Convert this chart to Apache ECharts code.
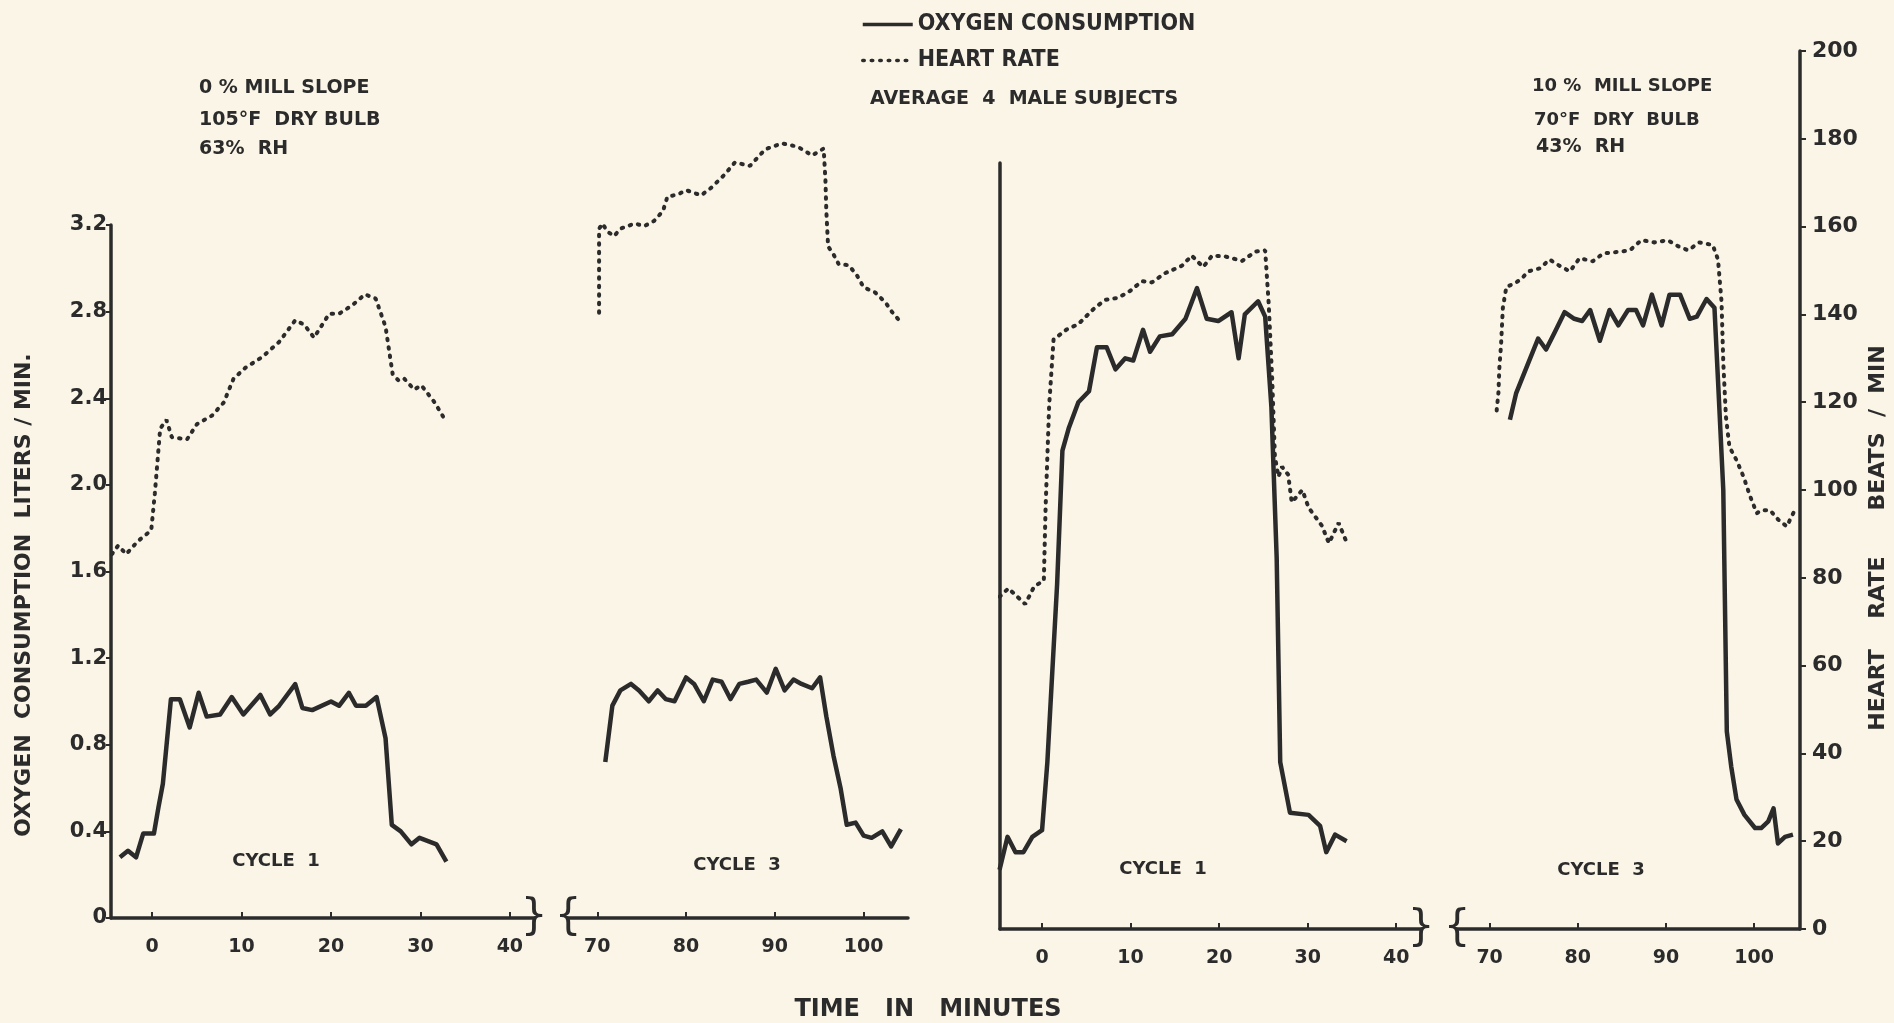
<!DOCTYPE html>
<html>
<head>
<meta charset="utf-8">
<title>Oxygen consumption and heart rate</title>
<script src="https://cdn.jsdelivr.net/npm/echarts@6/dist/echarts.min.js"></script>
<style>
  * { margin: 0; padding: 0; }
  html, body { background: #fbf5e7; }
  #main { width: 1894px; height: 1023px; }
</style>
</head>
<body>
<div id="main"></div>
<script>
// [minute, litres/min] and [minute, beats/min]
// 0% slope, 105 F dry bulb, 63% RH
var o2HotC1 = [[-3.6,0.28],[-2.7,0.31],[-1.8,0.28],[-1.0,0.39],[0.2,0.39],[0.7,0.51],[1.2,0.62],[2.1,1.01],[3.1,1.01],[4.2,0.88],[5.2,1.04],[6.1,0.93],[7.6,0.94],[8.9,1.02],[10.2,0.94],[12.1,1.03],[13.2,0.94],[14.2,0.98],[16.0,1.08],[16.8,0.97],[17.9,0.96],[20.0,1.00],[20.9,0.98],[22.0,1.04],[22.8,0.98],[23.9,0.98],[25.1,1.02],[26.1,0.83],[26.8,0.43],[27.8,0.40],[29.0,0.34],[29.9,0.37],[31.8,0.34],[32.9,0.26]];
var hrHotC1 = [[-4.5,84],[-3.8,86],[-2.9,84],[-1.6,87],[-0.1,89.5],[0.3,98],[0.7,108],[0.9,113],[1.6,115],[2.2,111],[3.9,110.5],[5.0,114],[6.7,116],[8.0,119],[9.1,124.5],[10.4,127],[12.3,129.5],[14.2,133],[16.0,138],[17.0,137],[18.1,134],[19.8,139.5],[20.9,139.5],[22.4,141.5],[23.8,144],[25.0,143],[26.1,136.5],[26.5,131],[26.9,125.5],[27.6,124],[28.2,124.5],[29.3,122],[30.1,123],[31.6,119],[32.9,114.5]];
var o2HotC3 = [[70.9,0.72],[71.7,0.98],[72.6,1.05],[73.8,1.08],[74.7,1.05],[75.8,1.00],[76.8,1.05],[77.7,1.01],[78.7,1.00],[80.0,1.11],[80.9,1.08],[82.0,1.00],[83.0,1.10],[84.0,1.09],[85.0,1.01],[86.0,1.08],[87.0,1.09],[87.9,1.10],[89.1,1.04],[90.1,1.15],[91.1,1.05],[92.1,1.10],[93.0,1.08],[94.2,1.06],[95.1,1.11],[95.8,0.93],[96.6,0.75],[97.4,0.60],[98.1,0.43],[99.1,0.44],[100.0,0.38],[100.9,0.37],[102.1,0.40],[103.1,0.33],[104.2,0.41]];
var hrHotC3 = [[70.2,139.6],[70.2,159],[70.6,160.2],[71.1,158.4],[71.9,157.3],[72.6,159],[74.2,160.2],[75.3,159.6],[76.4,160.8],[77.4,163.1],[77.9,166.4],[79.1,166.9],[80.0,167.9],[81.7,166.7],[82.8,168.4],[84.3,171.4],[85.5,174.3],[87.2,173.5],[88.9,177.3],[90.8,178.7],[92.6,177.9],[94.2,175.9],[95.5,177.5],[95.7,170.2],[95.8,163.1],[96.0,154.9],[96.6,153.1],[97.2,150.8],[98.3,150.6],[99.2,148.4],[100.0,145.5],[101.3,144.3],[102.5,141.9],[103.2,139.8],[104.2,137.4]];
// 10% slope, 70 F dry bulb, 43% RH
var o2CoolC1 = [[-4.8,0.27],[-3.9,0.42],[-3.0,0.35],[-2.1,0.35],[-1.1,0.42],[0.0,0.45],[0.6,0.76],[1.1,1.13],[1.7,1.57],[2.3,2.18],[3.0,2.28],[4.1,2.40],[5.3,2.45],[6.2,2.65],[7.3,2.65],[8.3,2.55],[9.4,2.60],[10.3,2.59],[11.4,2.73],[12.2,2.63],[13.3,2.70],[14.7,2.71],[16.2,2.78],[17.5,2.92],[18.6,2.78],[19.9,2.77],[21.4,2.81],[22.2,2.60],[22.9,2.80],[24.4,2.86],[25.2,2.79],[25.9,2.38],[26.5,1.69],[26.9,0.76],[28.0,0.53],[30.1,0.52],[31.4,0.47],[32.1,0.35],[33.1,0.43],[34.4,0.40]];
var hrCoolC1 = [[-4.8,75.7],[-3.8,77.6],[-1.9,74.0],[-0.9,78.0],[0.2,79.4],[0.4,96.0],[0.6,107.6],[0.8,119.2],[1.3,134.3],[2.8,136.6],[4.1,137.8],[5.8,141.2],[7.1,143.3],[8.6,143.8],[9.9,145.3],[11.3,147.6],[12.4,147.3],[13.9,149.4],[15.8,151.1],[16.9,153.4],[18.2,150.8],[19.2,153.4],[20.7,153.2],[22.6,152.2],[24.1,154.3],[25.2,154.6],[25.6,142.4],[26.0,125],[26.3,107.6],[26.7,103.0],[27.1,105.3],[27.8,103.5],[28.2,97.2],[29.4,100.0],[30.1,96.0],[31.6,91.9],[32.4,87.9],[33.5,92.5],[34.4,88.1]];
var o2CoolC3 = [[72.3,2.32],[73.0,2.44],[74.4,2.58],[75.5,2.69],[76.4,2.64],[77.4,2.72],[78.5,2.81],[79.6,2.78],[80.5,2.77],[81.4,2.82],[82.5,2.68],[83.6,2.82],[84.6,2.75],[85.7,2.82],[86.6,2.82],[87.4,2.75],[88.4,2.89],[89.5,2.75],[90.4,2.89],[91.6,2.89],[92.7,2.78],[93.5,2.79],[94.6,2.87],[95.5,2.83],[95.9,2.50],[96.5,2.00],[96.9,0.90],[97.4,0.74],[98.0,0.59],[98.9,0.52],[100.1,0.46],[100.8,0.46],[101.6,0.49],[102.2,0.55],[102.7,0.39],[103.5,0.42],[104.4,0.43]];
var hrCoolC3 = [[70.8,118.1],[71.0,122.2],[71.1,127.7],[71.3,133.2],[71.5,141.5],[71.9,146.3],[72.8,147.0],[73.6,148.1],[74.4,149.8],[75.7,150.5],[76.8,152.5],[77.9,151.1],[79.1,149.8],[80.2,152.8],[81.7,152.1],[82.9,153.9],[84.4,154.2],[85.9,154.6],[87.2,156.9],[88.7,156.4],[90.2,156.9],[91.4,155.5],[92.5,154.6],[93.8,156.4],[95.3,155.8],[95.9,152.5],[96.3,142.9],[96.5,129.1],[96.8,116.7],[97.2,109.8],[98.0,106.8],[98.8,103.0],[99.5,98.8],[100.3,94.7],[100.8,95.4],[101.8,95.4],[102.7,93.3],[103.7,91.7],[104.6,95.4]];

var ticksEarly = [0, 10, 20, 30, 40];
var ticksLate = [70, 80, 90, 100];

var INK = '#2b2b2b';
var WIDE = '"DejaVu Sans", sans-serif';
var NARROW = '"Liberation Sans Narrow", "DejaVu Sans Condensed", sans-serif';
var O2NAME = 'OXYGEN CONSUMPTION';
var HRNAME = 'HEART RATE';

function timeAxis(grid, min, max, ticks) {
  return {
    type: 'value', gridIndex: grid, min: min, max: max,
    axisLine: { show: true, onZero: false, lineStyle: { color: INK, width: 3.5 } },
    axisTick: { show: true, inside: true, length: 6, customValues: ticks, lineStyle: { color: INK, width: 2 } },
    axisLabel: { customValues: ticks, margin: 20, color: INK, fontSize: 19, fontWeight: 'bold', fontFamily: WIDE },
    splitLine: { show: false }
  };
}
function hiddenAxis(grid, max) {
  return { type: 'value', gridIndex: grid, min: 0, max: max, show: false, splitLine: { show: false } };
}
function line(name, x, y, data) {
  var dotted = name === HRNAME;
  // round caps grow each dash by the line width, so the dash is kept short
  return {
    name: name, type: 'line', xAxisIndex: x, yAxisIndex: y, data: data,
    symbol: 'none', silent: true, animation: false,
    itemStyle: { color: INK },
    lineStyle: dotted ? { color: INK, width: 4, type: [1.5, 7], cap: 'round' }
                      : { color: INK, width: 4.5, join: 'round' }
  };
}
function txt(x, y, s, size, rot, font) {
  return {
    type: 'text', x: x, y: y, rotation: rot || 0, silent: true,
    style: { text: s, fill: INK, font: 'bold ' + size + 'px ' + (font || WIDE),
             align: rot ? 'center' : 'left', verticalAlign: 'middle' }
  };
}
function ctxt(x, y, s, size) {
  var t = txt(x, y, s, size); t.style.align = 'center'; return t;
}
function brace(x, y, s) {
  return { type: 'text', x: x, y: y, silent: true,
    style: { text: s, fill: INK, font: '42px "DejaVu Sans"', align: 'center', verticalAlign: 'middle' } };
}

var chart = echarts.init(document.getElementById('main'));
chart.setOption({
  backgroundColor: '#fbf5e7',
  animation: false,
  legend: {
    data: [O2NAME, HRNAME], orient: 'vertical', left: 856, top: 8,
    itemWidth: 50, itemHeight: 14, itemGap: 13, selectedMode: false,
    itemStyle: { opacity: 0, borderWidth: 0 },
    lineStyle: { width: 3.5 },
    textStyle: { color: INK, fontSize: 23, fontWeight: 'bold', fontFamily: NARROW }
  },
  grid: [
    { left: 111, top: 225, width: 423, height: 693 },
    { left: 568, top: 51, width: 340, height: 867 },
    { left: 1000, top: 163, width: 421, height: 766 },
    { left: 1457, top: 51, width: 343, height: 878 }
  ],
  xAxis: [
    timeAxis(0, -4.6, 42.7, ticksEarly),
    timeAxis(1, 66.7, 105, ticksLate),
    timeAxis(2, -4.75, 42.8, ticksEarly),
    timeAxis(3, 66.3, 105.2, ticksLate)
  ],
  yAxis: [
    { type: 'value', gridIndex: 0, min: 0, max: 3.2, interval: 0.4, position: 'left',
      axisLine: { show: true, onZero: false, lineStyle: { color: INK, width: 3.5 } },
      axisTick: { show: true, length: 5, lineStyle: { color: INK, width: 2 } },
      axisLabel: { margin: 4, color: INK, fontSize: 21, fontWeight: 'bold', fontFamily: WIDE,
                   formatter: function (v) { return v === 0 ? '0' : v.toFixed(1); } },
      splitLine: { show: false } },
    hiddenAxis(0, 160),
    hiddenAxis(1, 4.0),
    hiddenAxis(1, 200),
    { type: 'value', gridIndex: 2, min: 0, max: 3.49, position: 'left',
      axisLine: { show: true, onZero: false, lineStyle: { color: INK, width: 3.5 } },
      axisTick: { show: false }, axisLabel: { show: false }, splitLine: { show: false } },
    hiddenAxis(2, 174.5),
    hiddenAxis(3, 4.0),
    { type: 'value', gridIndex: 3, min: 0, max: 200, interval: 20, position: 'right',
      axisLine: { show: true, onZero: false, lineStyle: { color: INK, width: 3.5 } },
      axisTick: { show: true, length: 6, lineStyle: { color: INK, width: 2 } },
      axisLabel: { margin: 12, color: INK, fontSize: 22, fontWeight: 'bold', fontFamily: WIDE },
      splitLine: { show: false } }
  ],
  series: [
    line(O2NAME, 0, 0, o2HotC1),
    line(HRNAME, 0, 1, hrHotC1),
    line(O2NAME, 1, 2, o2HotC3),
    line(HRNAME, 1, 3, hrHotC3),
    line(O2NAME, 2, 4, o2CoolC1),
    line(HRNAME, 2, 5, hrCoolC1),
    line(O2NAME, 3, 6, o2CoolC3),
    line(HRNAME, 3, 7, hrCoolC3)
  ],
  graphic: [
    txt(870, 99, 'AVERAGE  4  MALE SUBJECTS', 19),
    txt(199, 88, '0 % MILL SLOPE', 19),
    txt(199, 120, '105°F  DRY BULB', 19),
    txt(199, 149, '63%  RH', 19),
    txt(1532, 86, '10 %  MILL SLOPE', 18),
    txt(1534, 120, '70°F  DRY  BULB', 18),
    txt(1536, 147, '43%  RH', 19),
    ctxt(276, 861, 'CYCLE  1', 18),
    ctxt(737, 865, 'CYCLE  3', 18),
    ctxt(1163, 869, 'CYCLE  1', 18),
    ctxt(1601, 870, 'CYCLE  3', 18),
    ctxt(928, 1010, 'TIME   IN   MINUTES', 24),
    txt(24, 595, 'OXYGEN  CONSUMPTION  LITERS / MIN.', 22, Math.PI / 2),
    txt(1878, 538, 'HEART    RATE      BEATS  /  MIN', 22, Math.PI / 2),
    brace(534, 918, '}'), brace(568, 918, '{'),
    brace(1421, 929, '}'), brace(1457, 929, '{')
  ]
});
</script>
</body>
</html>
